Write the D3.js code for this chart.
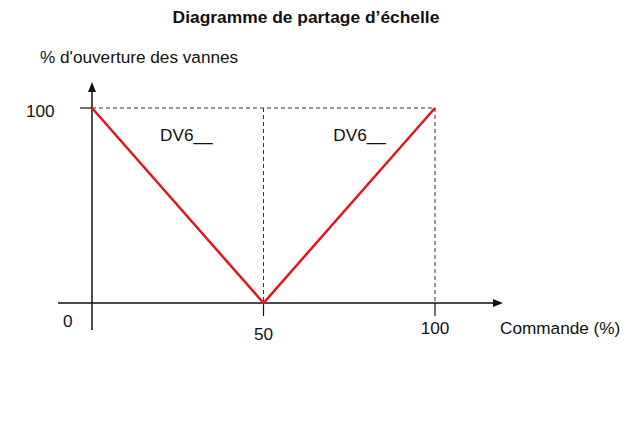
<!DOCTYPE html>
<html><head><meta charset="utf-8">
<script src="https://cdn.jsdelivr.net/npm/d3@7"></script>
<style>body{margin:0;background:#fff}svg{display:block}text{font-family:"Liberation Sans",Arial,sans-serif;fill:#111}</style>
</head><body><svg id="c" width="633" height="429"></svg>
<script>
const commande = [0, 50, 100];
const ouverture = [100, 0, 100];
const xTicks = [50, 100];
const valveLabels = ["DV6__", "DV6__"];
const labelX = [27.5, 78];

const svg = d3.select("#c");
const x = d3.scaleLinear().domain([0, 100]).range([92, 435]);
const y = d3.scaleLinear().domain([0, 100]).range([303, 108]);
const fs = "17.2px";

svg.append("text").attr("x", 306).attr("y", 23).attr("text-anchor", "middle")
  .style("font-weight", "bold").style("font-size", "17.4px").text("Diagramme de partage d’échelle");
svg.append("text").attr("x", 40).attr("y", 63).style("font-size", fs).text("% d'ouverture des vannes");

// dashed guides
const dash = "4,3";
svg.append("line").attr("x1", x(0)).attr("x2", x(100)).attr("y1", y(100)).attr("y2", y(100))
  .attr("stroke", "#333").attr("stroke-dasharray", dash);
xTicks.forEach(t => svg.append("line").attr("x1", x(t)).attr("x2", x(t)).attr("y1", y(100)).attr("y2", y(0))
  .attr("stroke", "#333").attr("stroke-dasharray", dash));

// axes
svg.append("line").attr("x1", x(0)).attr("x2", x(0)).attr("y1", 330).attr("y2", 90).attr("stroke", "#111").attr("stroke-width", 1.5);
svg.append("path").attr("d", `M${x(0)-4},${92} L${x(0)},${82} L${x(0)+4},${92} Z`).attr("fill", "#111");
svg.append("line").attr("x1", 58).attr("x2", 495).attr("y1", y(0)).attr("y2", y(0)).attr("stroke", "#111").attr("stroke-width", 1.5);
svg.append("path").attr("d", `M${493},${y(0)-4} L${503},${y(0)} L${493},${y(0)+4} Z`).attr("fill", "#111");
// y tick at 100
svg.append("line").attr("x1", 80).attr("x2", x(0)).attr("y1", y(100)).attr("y2", y(100)).attr("stroke", "#111").attr("stroke-width", 1.2);
// x ticks
xTicks.forEach(t => svg.append("line").attr("x1", x(t)).attr("x2", x(t)).attr("y1", y(0)).attr("y2", 316).attr("stroke", "#111").attr("stroke-width", 1.2));

// tick labels
svg.append("text").attr("x", 26).attr("y", 117).style("font-size", fs).text("100");
svg.append("text").attr("x", 63).attr("y", 327).style("font-size", fs).text("0");
svg.selectAll(".xt").data(xTicks).enter().append("text")
  .attr("x", d => x(d)).attr("y", d => d === 50 ? 340 : 334).attr("text-anchor", "middle")
  .style("font-size", fs).text(d => d);
svg.append("text").attr("x", 500).attr("y", 334).style("font-size", fs).text("Commande (%)");

// valve labels
svg.selectAll(".vl").data(valveLabels).enter().append("text")
  .attr("x", (d, i) => x(labelX[i])).attr("y", 141).attr("text-anchor", "middle")
  .style("font-size", fs).text(d => d);

// red line
const line = d3.line().x((d, i) => x(commande[i])).y(d => y(d));
svg.append("path").datum(ouverture).attr("d", line).attr("fill", "none")
  .attr("stroke", "#e8141c").attr("stroke-width", 2.5);
</script></body></html>
